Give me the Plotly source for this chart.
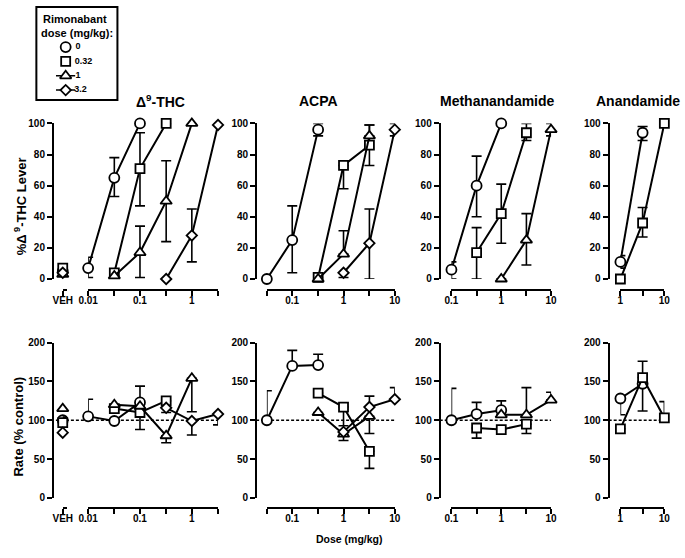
import plotly.graph_objects as go
import math

# ---------------- data ----------------
# Rimonabant dose groups (legend)
rimo_labels = ["0", "0.32", "1", "3.2"]

# Vehicle points (Δ9-THC panel), order: 0, 0.32, 1, 3.2 rimonabant
veh_lever = [5, 7, 3, 4]
veh_lever_err = [0, 1, 0, 0]
veh_rate = [100, 97, 115, 84]
veh_rate_up = [0, 7, 0, 0]

# ---- Δ9-THC ----
thc_d0 = [0.01, 0.032, 0.1]
thc_l0 = [7, 65, 100]; thc_l0_up = [7, 13, 0]; thc_l0_dn = [6, 12, 0]
thc_r0 = [105, 99, 123]; thc_r0_up = [22, 0, 21]; thc_r0_dn = [0, 0, 0]
thc_d1 = [0.032, 0.1, 0.32]
thc_l1 = [4, 71, 100]; thc_l1_up = [0, 23, 0]; thc_l1_dn = [0, 24, 0]
thc_r1 = [115, 110, 125]; thc_r1_up = [0, 0, 0]; thc_r1_dn = [0, 22, 0]
thc_d2 = [0.032, 0.1, 0.32, 1]
thc_l2 = [2, 17, 50, 100]; thc_l2_up = [0, 17, 26, 0]; thc_l2_dn = [0, 16, 26, 0]
thc_r2 = [120, 118, 80, 154]; thc_r2_up = [0, 0, 0, 0]; thc_r2_dn = [0, 0, 9, 43]
thc_d3 = [0.32, 1, 3.2]
thc_l3 = [0, 28, 99]; thc_l3_up = [0, 17, 0]; thc_l3_dn = [0, 17, 0]
thc_r3 = [116, 99, 108]; thc_r3_up = [0, 0, 0]; thc_r3_dn = [6, 18, 14]

# ---- ACPA ----
acpa_d0 = [0.032, 0.1, 0.32]
acpa_l0 = [0, 25, 96]; acpa_l0_up = [0, 22, 4]; acpa_l0_dn = [0, 21, 4]
acpa_r0 = [100, 170, 171]; acpa_r0_up = [38, 20, 14]; acpa_r0_dn = [0, 0, 0]
acpa_d1 = [0.32, 1, 3.2]
acpa_l1 = [1, 73, 86]; acpa_l1_up = [0, 0, 13]; acpa_l1_dn = [0, 15, 13]
acpa_r1 = [135, 117, 60]; acpa_r1_up = [0, 0, 0]; acpa_r1_dn = [0, 24, 22]
acpa_d2 = [0.32, 1, 3.2]
acpa_l2 = [0, 16, 92]; acpa_l2_up = [0, 15, 7]; acpa_l2_dn = [0, 0, 0]
acpa_r2 = [110, 82, 105]; acpa_r2_up = [0, 0, 0]; acpa_r2_dn = [0, 8, 22]
acpa_d3 = [1, 3.2, 10]
acpa_l3 = [4, 23, 96]; acpa_l3_up = [0, 22, 4]; acpa_l3_dn = [3, 23, 4]
acpa_r3 = [85, 117, 127]; acpa_r3_up = [0, 14, 15]; acpa_r3_dn = [0, 0, 0]

# ---- Methanandamide ----
meth_d0 = [0.1, 0.32, 1]
meth_l0 = [6, 60, 100]; meth_l0_up = [5, 19, 0]; meth_l0_dn = [6, 20, 0]
meth_r0 = [100, 108, 113]; meth_r0_up = [41, 15, 12]; meth_r0_dn = [0, 0, 0]
meth_d1 = [0.32, 1, 3.2]
meth_l1 = [17, 42, 94]; meth_l1_up = [16, 19, 6]; meth_l1_dn = [17, 19, 5]
meth_r1 = [90, 88, 95]; meth_r1_up = [0, 0, 0]; meth_r1_dn = [13, 0, 12]
meth_d2 = [1, 3.2, 10]
meth_l2 = [0, 25, 96]; meth_l2_up = [0, 17, 4]; meth_l2_dn = [0, 16, 4]
meth_r2 = [107, 107, 126]; meth_r2_up = [0, 35, 10]; meth_r2_dn = [0, 0, 0]

# ---- Anandamide ----
anan_d0 = [1, 3.2]
anan_l0 = [11, 94]; anan_l0_up = [4, 4]; anan_l0_dn = [4, 5]
anan_r0 = [128, 147]; anan_r0_up = [0, 0]; anan_r0_dn = [21, 35]
anan_d1 = [1, 3.2, 10]
anan_l1 = [0, 36, 100]; anan_l1_up = [0, 10, 0]; anan_l1_dn = [0, 9, 0]
anan_r1 = [89, 155, 103]; anan_r1_up = [0, 21, 21]; anan_r1_dn = [0, 0, 0]

panel_titles = ["Δ<sup>9</sup>-THC", "ACPA", "Methanandamide", "Anandamide"]
panel_ticks = [
    [0.01, 0.032, 0.1, 0.32, 1, 3.2],
    [0.032, 0.1, 0.32, 1, 3.2, 10],
    [0.1, 0.32, 1, 3.2, 10],
    [1, 3.2, 10],
]
panel_ticktext = [
    ["0.01", "", "0.1", "", "1", ""],
    ["", "0.1", "", "1", "", "10"],
    ["0.1", "", "1", "", "10"],
    ["1", "", "10"],
]
lever_ticks = [0, 20, 40, 60, 80, 100]
rate_ticks = [0, 50, 100, 150, 200]

# ---------------- assemble ----------------
panel_series = [
    [(0, thc_d0, thc_l0, thc_l0_up, thc_l0_dn, thc_r0, thc_r0_up, thc_r0_dn),
     (1, thc_d1, thc_l1, thc_l1_up, thc_l1_dn, thc_r1, thc_r1_up, thc_r1_dn),
     (2, thc_d2, thc_l2, thc_l2_up, thc_l2_dn, thc_r2, thc_r2_up, thc_r2_dn),
     (3, thc_d3, thc_l3, thc_l3_up, thc_l3_dn, thc_r3, thc_r3_up, thc_r3_dn)],
    [(0, acpa_d0, acpa_l0, acpa_l0_up, acpa_l0_dn, acpa_r0, acpa_r0_up, acpa_r0_dn),
     (1, acpa_d1, acpa_l1, acpa_l1_up, acpa_l1_dn, acpa_r1, acpa_r1_up, acpa_r1_dn),
     (2, acpa_d2, acpa_l2, acpa_l2_up, acpa_l2_dn, acpa_r2, acpa_r2_up, acpa_r2_dn),
     (3, acpa_d3, acpa_l3, acpa_l3_up, acpa_l3_dn, acpa_r3, acpa_r3_up, acpa_r3_dn)],
    [(0, meth_d0, meth_l0, meth_l0_up, meth_l0_dn, meth_r0, meth_r0_up, meth_r0_dn),
     (1, meth_d1, meth_l1, meth_l1_up, meth_l1_dn, meth_r1, meth_r1_up, meth_r1_dn),
     (2, meth_d2, meth_l2, meth_l2_up, meth_l2_dn, meth_r2, meth_r2_up, meth_r2_dn)],
    [(0, anan_d0, anan_l0, anan_l0_up, anan_l0_dn, anan_r0, anan_r0_up, anan_r0_dn),
     (1, anan_d1, anan_l1, anan_l1_up, anan_l1_dn, anan_r1, anan_r1_up, anan_r1_dn)],
]

# full-window figure; the page body margin is removed in post_script
W, H = 685, 558
FONT = "Liberation Sans, Arial, Helvetica, sans-serif"


def PX(x):
    return x / W


def PY(y):
    return 1 - y / H


SYMBOLS = ["circle", "square", "triangle-up", "diamond"]
SIZES = [10, 9, 10, 8]

# layout geometry (page pixels)
x_first_px = [80, 263, 452, 625]
x_last_px = [213, 394, 554, 670]
yaxis_px = [44, 252, 440, 613]
TOP_Y0, TOP_Y1, TOP_XAX = 279, 120, 290
BOT_Y0, BOT_Y1, BOT_XAX = 502.7, 344, 513
title_x_px = [154, 316, 499, 643]

fig = go.Figure()

tickfont = dict(family=FONT, size=10, color="black", weight="bold")


def marker(k):
    return dict(symbol=SYMBOLS[k], size=SIZES[k], color="white",
                line=dict(color="black", width=1.8))


def err(up, dn):
    return dict(type="data", symmetric=False, array=up, arrayminus=dn,
                color="black", thickness=1.6, width=5)


for p, series in enumerate(panel_series):
    xt, yt = f"x{p + 1}", f"y{p + 1}"
    xb, yb = f"x{p + 5}", f"y{p + 5}"
    for (k, d, lev, lu, ld, rate, ru, rd) in series:
        fig.add_trace(go.Scatter(
            x=d, y=lev, xaxis=xt, yaxis=yt, mode="lines+markers",
            line=dict(color="black", width=2), marker=marker(k),
            error_y=err(lu, ld), cliponaxis=False, showlegend=False))
        fig.add_trace(go.Scatter(
            x=d, y=rate, xaxis=xb, yaxis=yb, mode="lines+markers",
            line=dict(color="black", width=2), marker=marker(k),
            error_y=err(ru, rd), cliponaxis=False, showlegend=False))

# vehicle points
for k in range(4):
    fig.add_trace(go.Scatter(
        x=["VEH"], y=[veh_lever[k]], xaxis="x9", yaxis="y1", mode="markers",
        marker=marker(k), error_y=err([veh_lever_err[k]], [veh_lever_err[k]]),
        cliponaxis=False, showlegend=False))
    fig.add_trace(go.Scatter(
        x=["VEH"], y=[veh_rate[k]], xaxis="x10", yaxis="y5", mode="markers",
        marker=marker(k), error_y=err([veh_rate_up[k]], [0]),
        cliponaxis=False, showlegend=False))

# legend (drawn on its own hidden category axis)
for k in range(4):
    fig.add_trace(go.Scatter(
        x=[0], y=[rimo_labels[k]], xaxis="x11", yaxis="y11",
        mode="markers+text", text=["\u00a0" + rimo_labels[k]],
        textposition="middle right",
        textfont=dict(family=FONT, size=9, color="black", weight="bold"),
        marker=marker(k),
        error_x=dict(type="constant", value=1, width=0, thickness=1.5,
                     color="black", visible=(k >= 2)),
        cliponaxis=False, showlegend=False))

layout = dict(
    width=W, height=H, margin=dict(l=0, r=0, t=0, b=0, pad=0),
    plot_bgcolor="white", paper_bgcolor="white",
    font=dict(family=FONT, color="black"),
    showlegend=False,
)


def xaxis(p, pos):
    lo = math.log10(panel_ticks[p][0])
    hi = math.log10(panel_ticks[p][-1])
    return dict(type="log", domain=[PX(x_first_px[p]), PX(x_last_px[p])],
                range=[lo, hi], anchor="free", position=pos,
                showline=True, linecolor="black", linewidth=2,
                ticks="outside", ticklen=5, tickwidth=2, tickcolor="black",
                tickvals=panel_ticks[p], ticktext=panel_ticktext[p],
                ticklabelstandoff=-4,
                tickfont=tickfont, showgrid=False, zeroline=False)


def yaxis(p, dom, rng, tv):
    return dict(domain=dom, range=rng, anchor="free", position=PX(yaxis_px[p]),
                showline=True, linecolor="black", linewidth=2,
                ticks="outside", ticklen=5, tickwidth=2, tickcolor="black",
                tickvals=tv, tickfont=tickfont, showgrid=False, zeroline=False)


for p in range(4):
    layout[f"xaxis{p + 1}"] = xaxis(p, PY(TOP_XAX))
    layout[f"xaxis{p + 5}"] = xaxis(p, PY(BOT_XAX))
    layout[f"yaxis{p + 1}"] = yaxis(p, [PY(TOP_Y0), PY(TOP_Y1)], [0, 100], lever_ticks)
    layout[f"yaxis{p + 5}"] = yaxis(p, [PY(BOT_Y0), PY(BOT_Y1)], [0, 200], rate_ticks)

veh_axis = dict(type="category", domain=[PX(54), PX(58)], range=[0, 1.5],
                showline=True, linecolor="black", linewidth=2,
                ticks="outside", ticklen=5, tickwidth=2, tickcolor="black",
                ticklabelstandoff=-4,
                tickfont=tickfont, showgrid=False, zeroline=False, anchor="free")
layout["xaxis9"] = dict(veh_axis, position=PY(TOP_XAX))
layout["xaxis10"] = dict(veh_axis, position=PY(BOT_XAX))

# legend axes: rows centred between y = 42 and 86 px; symbol column at x = 57 px
layout["xaxis11"] = dict(domain=[PX(47), PX(67)], range=[-1, 1], visible=False,
                         anchor="y11", fixedrange=True)
layout["yaxis11"] = dict(domain=[PY(93.3), PY(34.7)], type="category",
                         categoryorder="array", categoryarray=rimo_labels,
                         range=[3.5, -0.5], visible=False, anchor="x11",
                         fixedrange=True)

fig.update_layout(**layout)

# dashed 100% reference lines on rate panels
for p in range(4):
    span = x_last_px[p] - x_first_px[p]
    start_px = 47 if p == 0 else yaxis_px[p]
    fig.add_shape(type="line", xref=f"x{p + 5} domain", yref=f"y{p + 5}",
                  x0=(start_px - x_first_px[p]) / span, x1=1, y0=100, y1=100,
                  line=dict(color="black", width=1.5, dash="3px,2px"), layer="below")

# legend box
fig.add_shape(type="rect", xref="paper", yref="paper",
              x0=PX(27), x1=PX(110), y0=PY(96), y1=PY(1),
              line=dict(color="black", width=2), fillcolor="rgba(0,0,0,0)")

# annotations
ann = []


def add_text(text, x, y, size, angle=0):
    ann.append(dict(text=text, x=PX(x), y=PY(y), xref="paper", yref="paper",
                    xanchor="center", yanchor="middle", showarrow=False,
                    textangle=angle, font=dict(family=FONT, size=size, color="black")))


for p in range(4):
    add_text(f"<b>{panel_titles[p]}</b>", title_x_px[p], 97, 14)
add_text("<b>%Δ<sup> 9</sup>-THC Lever</b>", 10, 205, 13, -90)
add_text("<b>Rate (% control)</b>", 9, 430, 13, -90)
add_text("<b>Dose (mg/kg)</b>", 348, 545, 10.5)
add_text("<b>Rimonabant</b>", 67, 13, 11)
add_text("<b>dose (mg/kg):</b>", 69, 28, 11)
fig.update_layout(annotations=ann)

fig.write_html("out.html", config={"displayModeBar": False},
               post_script="document.body.style.margin='0px';")
